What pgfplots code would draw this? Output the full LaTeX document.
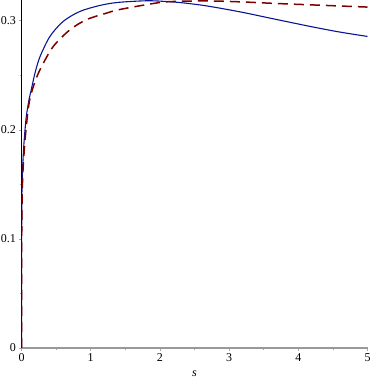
\documentclass[border=0pt]{standalone}
\usepackage{fontspec}
\setmainfont{Liberation Serif}
\usepackage{pgfplots}
\pgfplotsset{compat=1.18}
\usetikzlibrary{calc}
\definecolor{mapleblue}{RGB}{10,20,150}
\definecolor{maplered}{RGB}{125,0,0}
\begin{document}
\begin{tikzpicture}
\begin{axis}[
    scale only axis,
    width=346pt, height=348pt,
    xmin=0, xmax=5, ymin=0, ymax=0.319,
    axis lines*=left,
    x axis line style={gray!80, line width=1.6pt},
    y axis line style={black, line width=1.2pt},
    xtick={0,1,2,3,4,5},
    ytick={0,0.1,0.2,0.3},
    yticklabels={0,0.1,0.2,0.3},
    minor xtick={0.5,1.5,2.5,3.5,4.5},
    minor ytick={0.05,0.15,0.25},
    tick align=outside,
    major tick length=3pt,
    minor tick length=2pt,
    tick style={gray!70, line width=0.6pt},
    tick label style={font=\fontsize{12}{14}\selectfont},
    /pgf/number format/assume math mode=true,
    xticklabel style={yshift=1pt},
    yticklabel style={xshift=1pt},
    xlabel={\textit{s}},
    xlabel style={font=\fontsize{12}{14}\selectfont, yshift=-2pt},
]
\addplot[mapleblue, line width=1.1pt, smooth, tension=0.5] coordinates {
(0,0) (0.0005,0.06) (0.002,0.1) (0.004,0.125) (0.007,0.145) (0.017,0.166)
(0.036,0.188) (0.069,0.212) (0.113,0.229) (0.142,0.237) (0.195,0.252)
(0.267,0.267) (0.411,0.2856) (0.603,0.2994) (0.844,0.3085) (1.133,0.3140)
(1.397,0.3168) (1.81,0.3183) (2.07,0.3177) (2.3,0.3166) (2.6,0.3143)
(2.86,0.3116) (3.2,0.3076) (3.68,0.3012) (4.2,0.2944) (4.6,0.2896) (5,0.2856)
};
\addplot[maplered, line width=1.5pt, dash pattern=on 10pt off 6pt, smooth, tension=0.5] coordinates {
(0,0) (0.001,0.06) (0.003,0.1) (0.006,0.125) (0.011,0.145) (0.024,0.166)
(0.048,0.188) (0.084,0.212) (0.123,0.229) (0.2,0.245) (0.29,0.258)
(0.459,0.2764) (0.7,0.2917) (0.94,0.301) (1.23,0.307) (1.397,0.3100)
(1.81,0.3148) (2.07,0.3172) (2.4,0.3180) (2.76,0.3181) (3.2,0.3172)
(3.68,0.3158) (4.2,0.3145) (4.6,0.3135) (5,0.3125)
};
\end{axis}
\pgfresetboundingbox
\useasboundingbox ($(current axis.south west)+(-21.5pt,-34pt)$) rectangle ($(current axis.north east)+(2pt,0pt)$);
\end{tikzpicture}
\end{document}
